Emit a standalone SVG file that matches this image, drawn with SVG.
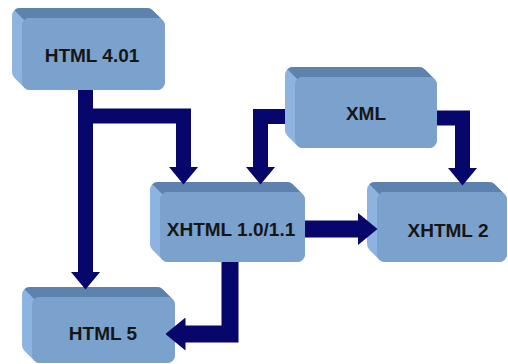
<svg xmlns="http://www.w3.org/2000/svg" width="508" height="364" viewBox="0 0 508 364">
  <style>
    .side { fill: #8db4e0; }
    .top { fill: #5d82ad; }
    .face { fill: #7ba1cd; }
    .label { font-family: "Liberation Sans", Arial, sans-serif; font-weight: bold; font-size: 19px; fill: #161616; text-anchor: middle; }
    .conn { fill: none; stroke: #06066b; stroke-width: 15; stroke-linejoin: miter; stroke-linecap: butt; }
    .conn.thick { stroke-width: 17; }
  </style>
  <defs>
    <marker id="arr" markerUnits="userSpaceOnUse" viewBox="0 0 18 30" markerWidth="18" markerHeight="30" refX="0.5" refY="15" orient="auto">
      <path d="M0,0 L18,15 L0,30 Z" fill="#06066b"/>
    </marker>
    <marker id="arrL" markerUnits="userSpaceOnUse" viewBox="0 0 20 33" markerWidth="20" markerHeight="33" refX="0.5" refY="16.5" orient="auto">
      <path d="M0,0 L20,16.5 L0,33 Z" fill="#06066b"/>
    </marker>
  </defs>
  <rect width="508" height="364" fill="#ffffff"/>

  <g id="node-html401">
    <path class="side" d="M12,16 A8 8 0 0 1 20,8 L147,8 A8 8 0 0 1 152.66,10.34 L162.66,20.34 A8 8 0 0 1 165,26 L165,82 A8 8 0 0 1 157,90 L30,90 A8 8 0 0 1 24.34,87.66 L14.34,77.66 A8 8 0 0 1 12,72 Z"/>
    <path class="top" d="M14.34,10.34 A8 8 0 0 1 20,8 L147,8 A8 8 0 0 1 152.66,10.34 L162.66,20.34 A8 8 0 0 0 157,18 L30,18 A8 8 0 0 0 24.34,20.34 Z"/>
    <rect class="face" x="22" y="18" width="143" height="72" rx="8"/>
    <text class="label" x="92" y="62">HTML 4.01</text>
  </g>

  <g id="node-xml">
    <path class="side" d="M285,75 A8 8 0 0 1 293,67 L419,67 A8 8 0 0 1 424.66,69.34 L434.66,79.34 A8 8 0 0 1 437,85 L437,140 A8 8 0 0 1 429,148 L303,148 A8 8 0 0 1 297.34,145.66 L287.34,135.66 A8 8 0 0 1 285,130 Z"/>
    <path class="top" d="M287.34,69.34 A8 8 0 0 1 293,67 L419,67 A8 8 0 0 1 424.66,69.34 L434.66,79.34 A8 8 0 0 0 429,77 L303,77 A8 8 0 0 0 297.34,79.34 Z"/>
    <rect class="face" x="295" y="77" width="142" height="71" rx="8"/>
    <text class="label" x="366" y="120">XML</text>
  </g>

  <g id="node-xhtml1">
    <path class="side" d="M150,190 A8 8 0 0 1 158,182 L287,182 A8 8 0 0 1 292.66,184.34 L302.66,194.34 A8 8 0 0 1 305,200 L305,254 A8 8 0 0 1 297,262 L168,262 A8 8 0 0 1 162.34,259.66 L152.34,249.66 A8 8 0 0 1 150,244 Z"/>
    <path class="top" d="M152.34,184.34 A8 8 0 0 1 158,182 L287,182 A8 8 0 0 1 292.66,184.34 L302.66,194.34 A8 8 0 0 0 297,192 L168,192 A8 8 0 0 0 162.34,194.34 Z"/>
    <rect class="face" x="160" y="192" width="145" height="70" rx="8"/>
    <text class="label" x="231" y="236">XHTML 1.0/1.1</text>
  </g>

  <g id="node-xhtml2">
    <path class="side" d="M367,190 A8 8 0 0 1 375,182 L489,182 A8 8 0 0 1 494.66,184.34 L504.66,194.34 A8 8 0 0 1 507,200 L507,254 A8 8 0 0 1 499,262 L385,262 A8 8 0 0 1 379.34,259.66 L369.34,249.66 A8 8 0 0 1 367,244 Z"/>
    <path class="top" d="M369.34,184.34 A8 8 0 0 1 375,182 L489,182 A8 8 0 0 1 494.66,184.34 L504.66,194.34 A8 8 0 0 0 499,192 L385,192 A8 8 0 0 0 379.34,194.34 Z"/>
    <rect class="face" x="377" y="192" width="130" height="70" rx="8"/>
    <text class="label" x="448" y="237">XHTML 2</text>
  </g>

  <g id="node-html5">
    <path class="side" d="M22,295 A8 8 0 0 1 30,287 L157,287 A8 8 0 0 1 162.66,289.34 L172.66,299.34 A8 8 0 0 1 175,305 L175,355 A8 8 0 0 1 167,363 L40,363 A8 8 0 0 1 34.34,360.66 L24.34,350.66 A8 8 0 0 1 22,345 Z"/>
    <path class="top" d="M24.34,289.34 A8 8 0 0 1 30,287 L157,287 A8 8 0 0 1 162.66,289.34 L172.66,299.34 A8 8 0 0 0 167,297 L40,297 A8 8 0 0 0 34.34,299.34 Z"/>
    <rect class="face" x="32" y="297" width="143" height="66" rx="8"/>
    <text class="label" x="103" y="340">HTML 5</text>
  </g>

  <g id="connectors">
    <path class="conn" d="M85.5,90 V116 H183.5 V167" marker-end="url(#arr)"/>
    <path class="conn" d="M85.5,90 V272" marker-end="url(#arr)"/>
    <path class="conn" d="M285,116.5 H260.5 V167" marker-end="url(#arr)"/>
    <path class="conn" d="M437,118 H462.5 V168" marker-end="url(#arr)"/>
    <path class="conn thick" d="M305,229 H358" marker-end="url(#arrL)"/>
    <path class="conn thick" d="M230,262 V334 H185" marker-end="url(#arrL)"/>
  </g>
</svg>
